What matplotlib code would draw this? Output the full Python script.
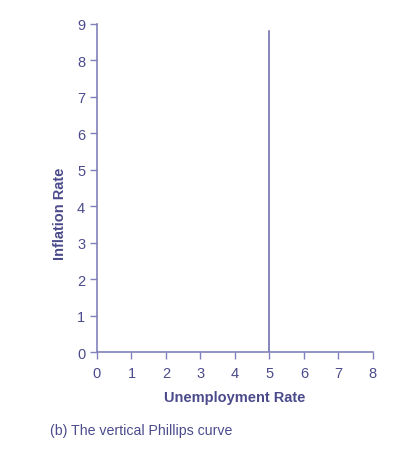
import matplotlib
matplotlib.use("Agg")
from matplotlib import pyplot as plt

# data
x_ticks = [0, 1, 2, 3, 4, 5, 6, 7, 8]
y_ticks = [0, 1, 2, 3, 4, 5, 6, 7, 8, 9]
natural_rate = 5
curve_y = [0, 8.8]

text_col = "#4b4b8c"
axis_col = "#8080bc"
line_col = "#6464aa"

plt.rcParams["font.family"] = ["Liberation Sans", "DejaVu Sans"]

fig = plt.figure(figsize=(4.04, 4.52), dpi=100)
ax = fig.add_axes([0.240, 0.219, 0.683, 0.726])

# vertical Phillips curve
ax.plot([natural_rate, natural_rate], curve_y, color=line_col, lw=1.1)

ax.set_xlim(0, 8)
ax.set_ylim(0, 9)
ax.set_xticks(x_ticks)
ax.set_yticks(y_ticks)

for s in ["top", "right"]:
    ax.spines[s].set_visible(False)
for s in ["left", "bottom"]:
    ax.spines[s].set_color(axis_col)
    ax.spines[s].set_linewidth(1.2)

ax.tick_params(colors=axis_col, labelcolor=text_col, labelsize=10.5,
               length=5, width=1)
ax.tick_params(axis="x", pad=5)

ax.set_xlabel("Unemployment Rate", color=text_col, fontsize=10.5,
              fontweight="bold", labelpad=7)
ax.set_ylabel("Inflation Rate", color=text_col, fontsize=10.5,
              fontweight="bold")
ax.yaxis.set_label_coords(-0.11, 0.424)

fig.text(0.124, 0.046, "(b) The vertical Phillips curve", color=text_col,
         fontsize=10.2, va="center")

fig.savefig("out.png", dpi=100)
